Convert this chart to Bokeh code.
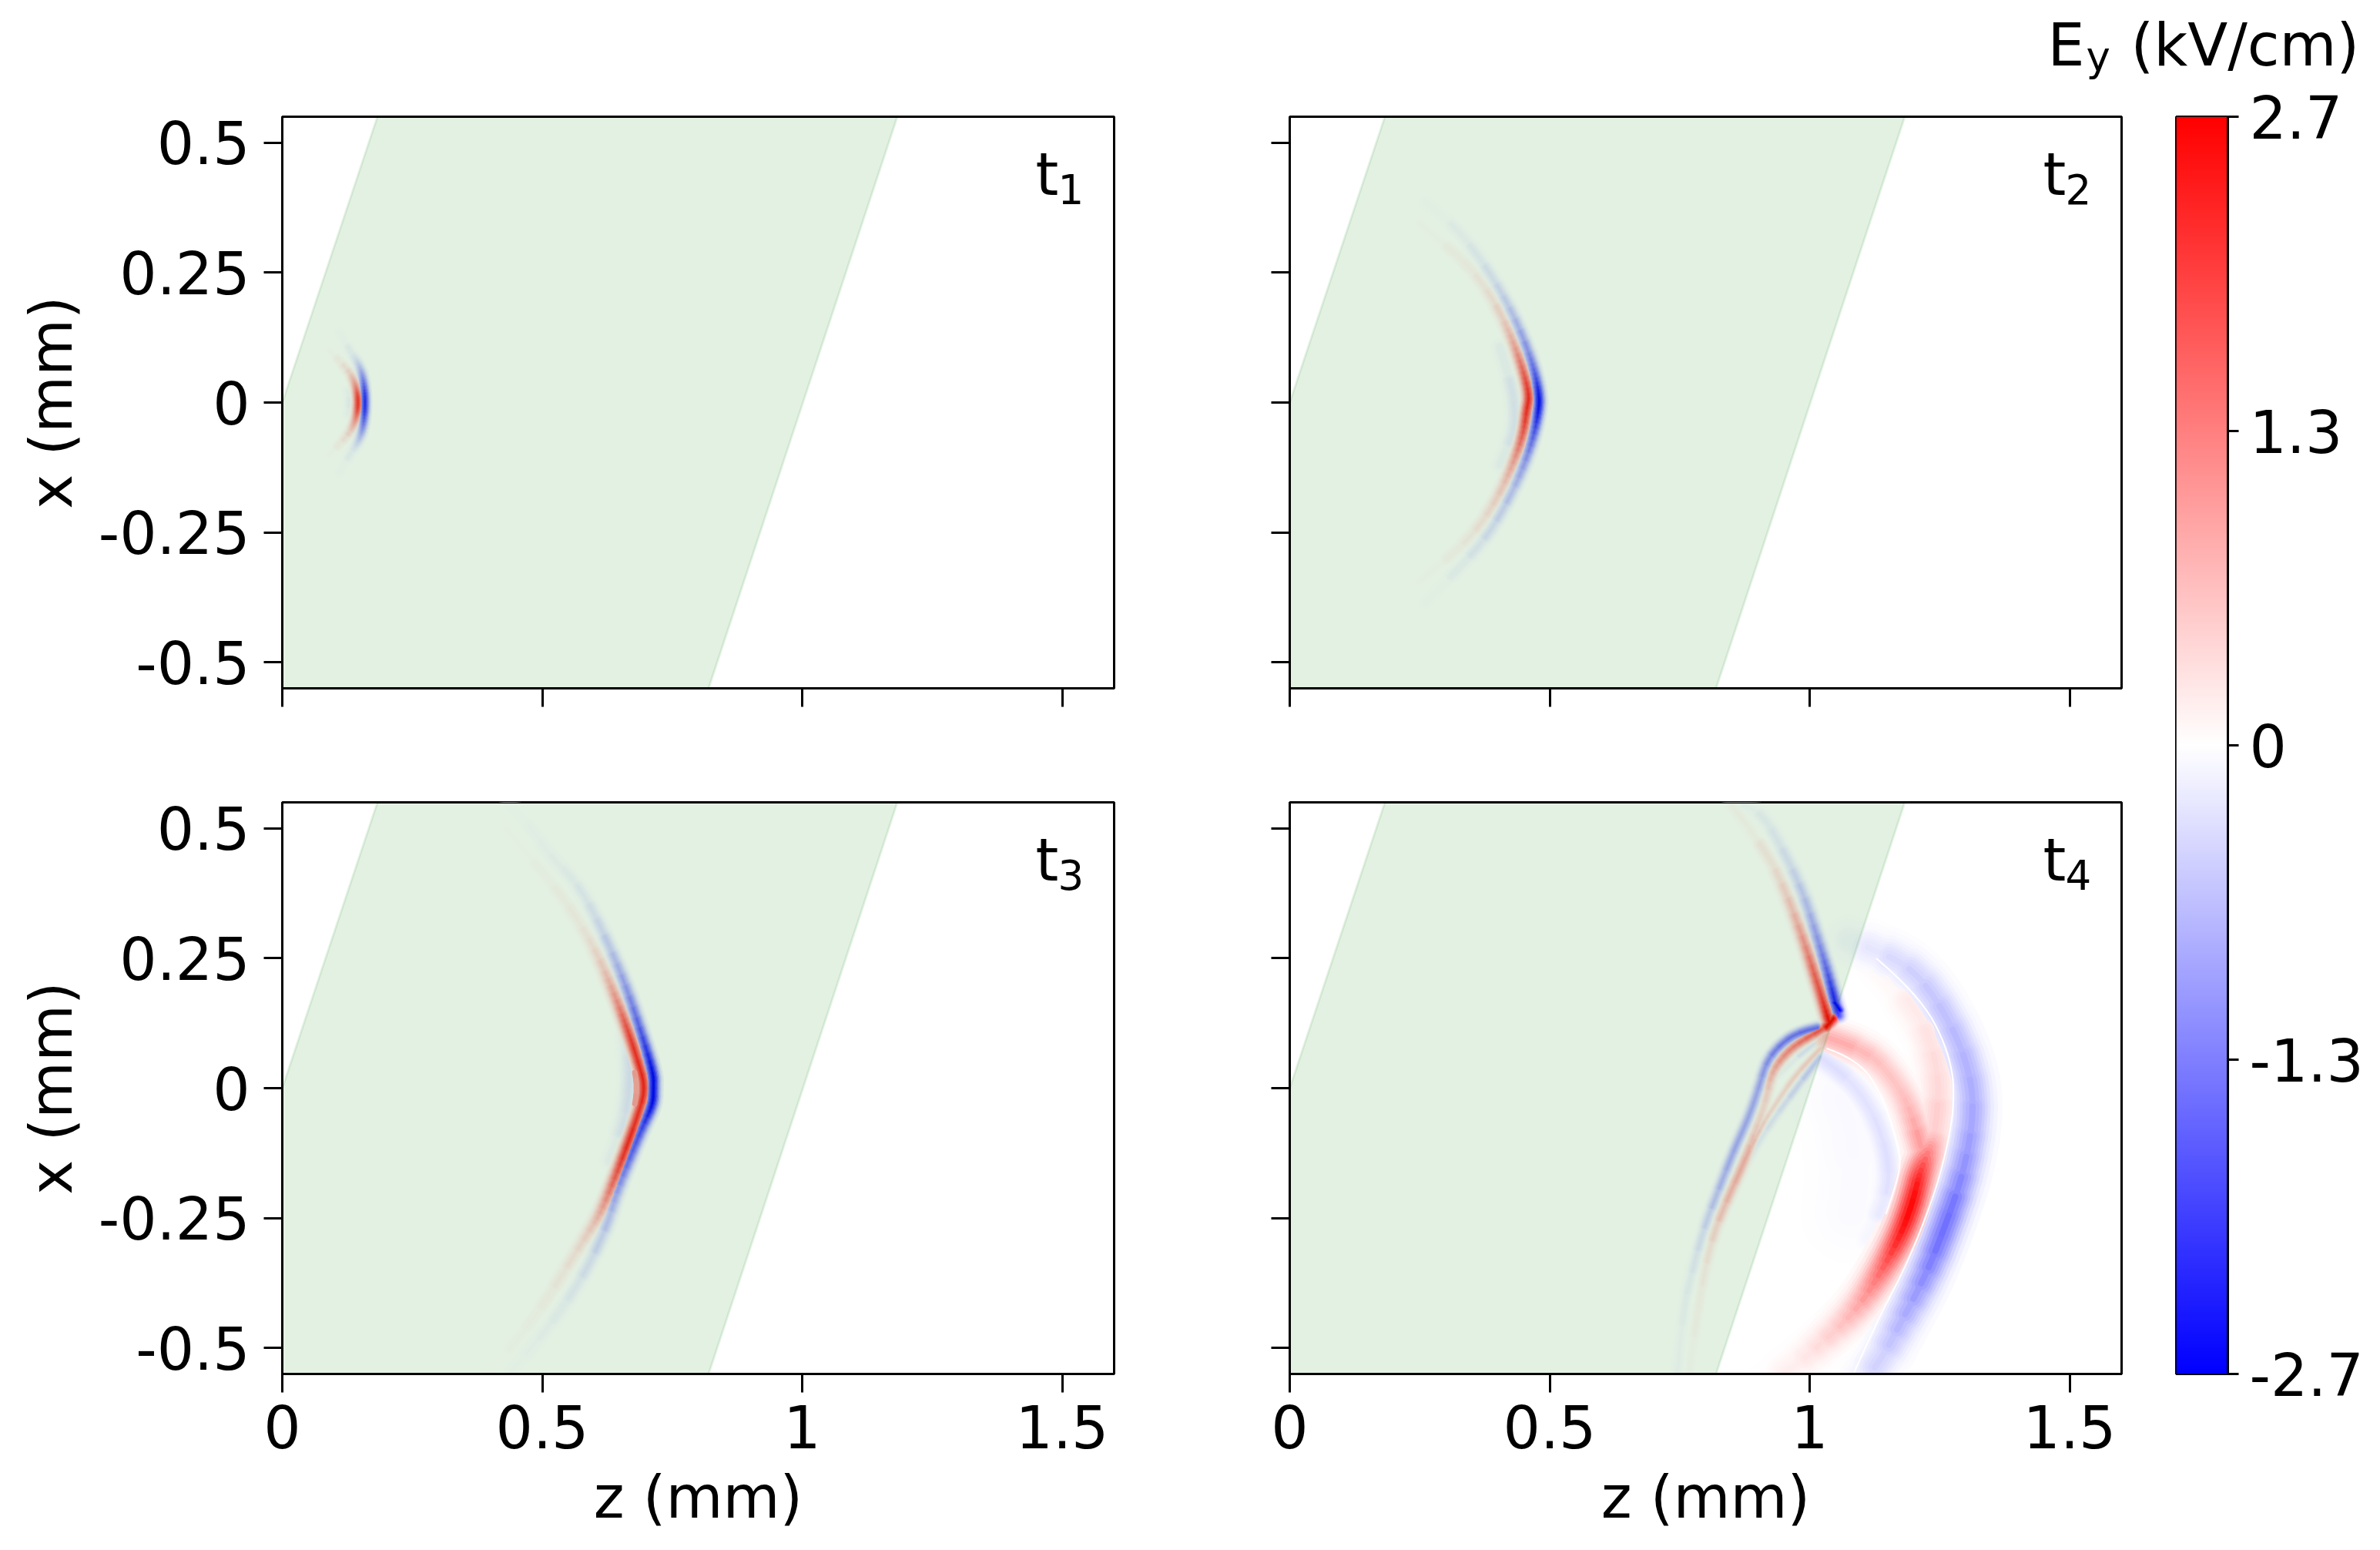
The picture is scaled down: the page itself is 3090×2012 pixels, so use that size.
import math
import numpy as np
from bokeh.embed import file_html
from bokeh.resources import INLINE
from bokeh.plotting import figure
from bokeh.layouts import row, column
from bokeh.models import ColumnDataSource, FixedTicker, Label, LinearColorMapper, Span
from bokeh.transform import linear_cmap

# ---- tick labels / ranges -------------------------------------------------
z_ticks = [0, 0.5, 1, 1.5]
z_tick_labels = ["0", "0.5", "1", "1.5"]
x_ticks = [0.5, 0.25, 0, -0.25, -0.5]
x_tick_labels = ["0.5", "0.25", "0", "-0.25", "-0.5"]
cb_ticks = [2.7, 1.35, 0, -1.35, -2.7]
cb_tick_labels = ["2.7", "1.3", "0", "-1.3", "-2.7"]
time_subs = ["1", "2", "3", "4"]

# ---- sample slab outline (z, x in mm) -------------------------------------
slab_z = [-0.183, 0.82, 1.183, 0.183]
slab_x = [-0.55, -0.55, 0.55, 0.55]

# ---- field ridges: z (mm), x (mm), Ey (kV/cm) ------------------------------
# t1
t1_blue_z = [0.110, 0.129, 0.146, 0.156, 0.160, 0.156, 0.146, 0.129, 0.110]
t1_blue_x = [0.135, 0.101, 0.077, 0.047, 0.0, -0.047, -0.077, -0.101, -0.135]
t1_blue_v = [0.0, -0.06, -0.3, -1.2, -2.6, -1.2, -0.3, -0.06, 0.0]
t1_red_z = [0.090, 0.124, 0.141, 0.147, 0.141, 0.124, 0.090]
t1_red_x = [0.100, 0.067, 0.037, 0.0, -0.037, -0.067, -0.100]
t1_red_v = [0.0, 0.12, 0.9, 2.6, 0.9, 0.12, 0.0]
t1_in_z = [0.126, 0.132, 0.126]
t1_in_x = [0.022, 0.0, -0.022]
t1_in_v = [0.0, -0.22, 0.0]
# t2
t2_blue_z = [0.261, 0.316, 0.379, 0.419, 0.449, 0.471, 0.480, 0.479, 0.470, 0.449, 0.419, 0.379, 0.316, 0.261]
t2_blue_x = [0.385, 0.344, 0.259, 0.191, 0.126, 0.062, 0.013, -0.013, -0.062, -0.126, -0.191, -0.259, -0.330, -0.385]
t2_blue_v = [0.0, -0.05, -0.2, -0.45, -0.9, -1.5, -2.6, -2.6, -1.6, -0.9, -0.5, -0.25, -0.05, 0.0]
t2_red_z = [0.250, 0.310, 0.360, 0.399, 0.428, 0.449, 0.461, 0.456, 0.449, 0.428, 0.399, 0.360, 0.310, 0.250]
t2_red_x = [0.344, 0.295, 0.245, 0.185, 0.122, 0.062, 0.013, -0.013, -0.062, -0.122, -0.185, -0.245, -0.295, -0.344]
t2_red_v = [0.0, 0.06, 0.15, 0.3, 0.7, 1.6, 2.3, 2.3, 1.7, 0.8, 0.4, 0.2, 0.06, 0.0]
t2_in_z = [0.404, 0.428, 0.434, 0.428, 0.404]
t2_in_x = [0.107, 0.033, -0.03, -0.07, -0.12]
t2_in_v = [0.0, -0.2, -0.22, -0.2, 0.0]
# t3
t3_blue_z = [0.436, 0.480, 0.514, 0.569, 0.613, 0.658, 0.692, 0.714, 0.714, 0.713, 0.692, 0.668, 0.643, 0.624, 0.58, 0.52, 0.47, 0.44]
t3_blue_x = [0.545, 0.500, 0.448, 0.393, 0.310, 0.206, 0.102, 0.028, 0.0, -0.031, -0.076, -0.135, -0.200, -0.268, -0.36, -0.45, -0.51, -0.545]
t3_blue_v = [0.0, -0.03, -0.06, -0.12, -0.3, -0.9, -1.8, -2.7, -2.7, -2.7, -1.9, -1.6, -0.9, -0.5, -0.2, -0.08, -0.04, 0.0]
t3_red_z = [0.43, 0.495, 0.554, 0.603, 0.639, 0.668, 0.684, 0.699, 0.684, 0.665, 0.643, 0.613, 0.588, 0.55, 0.50, 0.44, 0.40]
t3_red_x = [0.50, 0.423, 0.348, 0.265, 0.181, 0.102, 0.052, 0.0, -0.052, -0.106, -0.165, -0.239, -0.279, -0.34, -0.42, -0.50, -0.545]
t3_red_v = [0.0, 0.04, 0.1, 0.25, 0.9, 2.1, 2.3, 2.4, 2.2, 2.4, 1.8, 0.8, 0.4, 0.2, 0.08, 0.03, 0.0]
t3_in_z = [0.655, 0.668, 0.668, 0.655, 0.63]
t3_in_x = [0.147, 0.067, -0.007, -0.081, -0.14]
t3_in_v = [0.0, -0.25, -0.28, -0.2, 0.0]
t3_pale_z = [0.678, 0.684, 0.678]
t3_pale_x = [0.030, 0.0, -0.030]
t3_pale_v = [1.1, 0.8, 1.1]
# t4: wave reflected back through the slab, above the interface point
t4_ub_z = [0.873, 0.906, 0.949, 0.987, 1.015, 1.034, 1.051, 1.056]
t4_ub_x = [0.545, 0.534, 0.458, 0.378, 0.289, 0.225, 0.157, 0.140]
t4_ub_v = [-0.02, -0.1, -0.22, -0.5, -1.0, -1.6, -2.6, -1.8]
t4_ur_z = [0.850, 0.916, 0.954, 0.987, 1.010, 1.025, 1.037]
t4_ur_x = [0.545, 0.458, 0.378, 0.289, 0.217, 0.169, 0.129]
t4_ur_v = [0.0, 0.15, 0.4, 1.0, 1.7, 2.0, 2.7]
# t4: branch below the interface point
t4_ab_z = [1.015, 0.977, 0.939, 0.916, 0.902, 0.883, 0.854, 0.826, 0.798, 0.774, 0.755, 0.746]
t4_ab_x = [0.116, 0.108, 0.080, 0.048, 0.0, -0.056, -0.120, -0.193, -0.265, -0.353, -0.434, -0.545]
t4_ab_v = [-1.6, -1.5, -1.4, -1.1, -0.9, -0.9, -0.9, -0.7, -0.35, -0.15, -0.08, -0.04]
t4_ar_z = [1.029, 0.977, 0.944, 0.925, 0.916, 0.897, 0.873, 0.840, 0.812, 0.793, 0.779, 0.769]
t4_ar_x = [0.116, 0.088, 0.056, 0.024, -0.024, -0.080, -0.145, -0.217, -0.289, -0.378, -0.466, -0.545]
t4_ar_v = [1.9, 1.4, 1.1, 0.7, 0.35, 0.45, 0.9, 0.7, 0.3, 0.12, 0.07, 0.03]
t4_br_z = [1.025, 0.977, 0.939, 0.902, 0.873]
t4_br_x = [0.080, 0.032, -0.024, -0.080, -0.145]
t4_br_v = [0.5, 0.45, 0.35, 0.45, 0.9]
t4_bb_z = [1.020, 0.968, 0.916, 0.883, 0.854]
t4_bb_x = [0.060, -0.008, -0.080, -0.137, -0.193]
t4_bb_v = [-0.6, -0.35, -0.2, -0.15, -0.1]
t4_cb_z = [1.025, 0.977, 0.939]
t4_cb_x = [0.096, 0.064, 0.024]
t4_cb_v = [-0.3, -0.2, 0.0]
# t4: radiated field beyond the slab
t4_ob_z = [1.075, 1.110, 1.195, 1.251, 1.299, 1.318, 1.299, 1.261, 1.223, 1.176, 1.129, 1.090]
t4_ob_x = [0.285, 0.273, 0.233, 0.161, 0.064, -0.032, -0.153, -0.265, -0.361, -0.450, -0.538, -0.58]
t4_ob_v = [0.0, -0.2, -0.45, -0.62, -0.78, -0.88, -1.1, -1.6, -1.2, -0.75, -0.38, -0.2]
t4_oa_z = [1.125, 1.204, 1.242, 1.250, 1.238]
t4_oa_x = [0.245, 0.161, 0.064, -0.024, -0.100]
t4_oa_v = [0.0, 0.18, 0.35, 0.42, 0.6]
t4_or_z = [1.238, 1.214, 1.199, 1.176, 1.138, 1.091, 1.025, 0.958, 0.90]
t4_or_x = [-0.100, -0.153, -0.217, -0.281, -0.353, -0.426, -0.490, -0.546, -0.58]
t4_or_v = [0.6, 2.0, 2.7, 2.4, 1.5, 0.8, 0.35, 0.12, 0.0]
t4_ir_z = [1.039, 1.110, 1.157, 1.195, 1.214]
t4_ir_x = [0.096, 0.072, 0.024, -0.040, -0.112]
t4_ir_v = [0.95, 0.7, 0.6, 0.7, 1.1]
t4_ib_z = [1.025, 1.072, 1.129, 1.157, 1.138, 1.110]
t4_ib_x = [0.056, 0.024, -0.056, -0.161, -0.241, -0.289]
t4_ib_v = [-0.4, -0.3, -0.3, -0.35, -0.2, 0.0]
t4_glow_z = [1.06, 1.10, 1.08]
t4_glow_x = [-0.02, -0.12, -0.24]
t4_glow_v = [-0.05, -0.07, -0.03]
t4_hot_z = [1.032, 1.040, 1.046]
t4_hot_x = [0.118, 0.127, 0.134]
t4_hot_v = [2.7, 2.7, 2.7]
t4_bhot_z = [1.048, 1.053, 1.058]
t4_bhot_x = [0.165, 0.158, 0.150]
t4_bhot_v = [-2.7, -2.7, -2.7]
# t4: thin zero-field lines between the lobes
t4_n1_z = [1.129, 1.214, 1.271, 1.280, 1.256, 1.218, 1.176, 1.129, 1.086]
t4_n1_x = [0.249, 0.177, 0.064, -0.032, -0.153, -0.265, -0.361, -0.450, -0.546]
t4_n1_v = [0.0, 0.0, 0.0, 0.0, 0.0, 0.0, 0.0, 0.0, 0.0]
t4_n2_z = [1.034, 1.091, 1.138, 1.171, 1.176, 1.147]
t4_n2_x = [0.076, 0.056, -0.008, -0.112, -0.161, -0.241]
t4_n2_v = [0.0, 0.0, 0.0, 0.0, 0.0, 0.0]

# ridge list per panel with its stroke softness in screen pixels
panels = [
    [(t1_blue_z, t1_blue_x, t1_blue_v, 4), (t1_red_z, t1_red_x, t1_red_v, 4), (t1_in_z, t1_in_x, t1_in_v, 4)],
    [(t2_blue_z, t2_blue_x, t2_blue_v, 5), (t2_red_z, t2_red_x, t2_red_v, 5), (t2_in_z, t2_in_x, t2_in_v, 6)],
    [(t3_blue_z, t3_blue_x, t3_blue_v, 5.5), (t3_red_z, t3_red_x, t3_red_v, 5.5), (t3_in_z, t3_in_x, t3_in_v, 7)],
    [(t4_ub_z, t4_ub_x, t4_ub_v, 5.5), (t4_ur_z, t4_ur_x, t4_ur_v, 5.5),
     (t4_ab_z, t4_ab_x, t4_ab_v, 4.5), (t4_ar_z, t4_ar_x, t4_ar_v, 4.5),
     (t4_br_z, t4_br_x, t4_br_v, 3), (t4_bb_z, t4_bb_x, t4_bb_v, 3.5), (t4_cb_z, t4_cb_x, t4_cb_v, 3),
     (t4_ob_z, t4_ob_x, t4_ob_v, 16), (t4_oa_z, t4_oa_x, t4_oa_v, 15), (t4_or_z, t4_or_x, t4_or_v, 14),
     (t4_ir_z, t4_ir_x, t4_ir_v, 13), (t4_ib_z, t4_ib_x, t4_ib_v, 10), (t4_glow_z, t4_glow_x, t4_glow_v, 32),
     (t4_hot_z, t4_hot_x, t4_hot_v, 5), (t4_bhot_z, t4_bhot_x, t4_bhot_v, 4)],
]
# strokes painted last, on top of the ridges: (z, x, Ey, width px)
overlays = [
    [],
    [],
    [(t3_pale_z, t3_pale_x, t3_pale_v, 7)],
    [(t4_n1_z, t4_n1_x, t4_n1_v, 2), (t4_n2_z, t4_n2_x, t4_n2_v, 2)],
]

FONT = "DejaVu Sans"
SIZE = "76px"
SUB = "53px"
palette = []
for i in range(511):
    t = i / 510
    if t < 0.5:
        g = round(255 * t * 2)
        palette.append("#%02x%02xff" % (g, g))
    else:
        g = round(255 * (1 - t) * 2)
        palette.append("#ff%02x%02x" % (g, g))
VMAX = 2.7
levels = [0.05, 0.12, 0.22, 0.34, 0.47, 0.6, 0.73, 0.86, 1.0]


def blossom(a, b, p0, p1, p2):
    return (1 - a) * (1 - b) * p0 + (a * (1 - b) + b * (1 - a)) * p1 + a * b * p2


def pieces_of(zs, xs, vs):
    # spline strokes: the read points act as control points of the curve,
    # and each curve is painted in short pieces so that its colour changes gradually
    n = len(zs)
    out = []
    for i in range(n - 2):
        c = i + 1
        z0 = zs[0] if i == 0 else (zs[i] + zs[c]) / 2
        x0 = xs[0] if i == 0 else (xs[i] + xs[c]) / 2
        v0 = vs[0] if i == 0 else (vs[i] + vs[c]) / 2
        z2 = zs[-1] if c == n - 2 else (zs[c] + zs[c + 1]) / 2
        x2 = xs[-1] if c == n - 2 else (xs[c] + xs[c + 1]) / 2
        v2 = vs[-1] if c == n - 2 else (vs[c] + vs[c + 1]) / 2
        count = max(2, min(8, math.ceil(max(abs(vs[c] - v0), abs(v2 - vs[c])) / 0.1)))
        for k in range(count):
            a, b = k / count, (k + 1) / count
            out.append((blossom(a, a, z0, zs[c], z2), blossom(a, a, x0, xs[c], x2),
                        blossom(b, b, z0, zs[c], z2), blossom(b, b, x0, xs[c], x2),
                        blossom(a, b, z0, zs[c], z2), blossom(a, b, x0, xs[c], x2),
                        blossom(a, b, v0, vs[c], v2)))
    return out


def ridge_records(ridges, extra):
    rec = []
    for zs, xs, vs, sigma in ridges:
        for s in pieces_of(zs, xs, vs):
            for f in levels:
                w = 2 * sigma * math.sqrt(-2 * math.log(f)) + (0.5 * sigma if f == 1 else 0)
                rec.append((abs(s[6] * f),) + s[:6] + (s[6] * f, w))
    rec.sort(key=lambda r: r[0])
    for zs, xs, vs, width in extra:
        for s in pieces_of(zs, xs, vs):
            rec.append((0,) + s[:6] + (s[6], width))
    cols = list(zip(*rec))
    return dict(x0=cols[1], y0=cols[2], x1=cols[3], y1=cols[4], cx=cols[5], cy=cols[6], v=cols[7], lw=cols[8])


def style_axis(ax, ticks, labels, show):
    ax.ticker = FixedTicker(ticks=ticks)
    ax.major_label_overrides = {t: (l if show else "") for t, l in zip(ticks, labels)}
    ax.major_label_text_font = FONT
    ax.major_label_text_font_size = SIZE
    ax.major_label_text_color = "black"
    ax.major_tick_in = 0
    ax.major_tick_out = 24
    ax.major_tick_line_width = 3
    ax.major_tick_line_color = "black"
    ax.minor_tick_line_color = None
    ax.axis_line_width = 3
    ax.axis_line_color = "black"


def panel(idx, left, right, top, bottom, xlab, ylab):
    p = figure(frame_width=1080, frame_height=742, x_range=(0, 1.6), y_range=(-0.55, 0.55),
               min_border_left=left, min_border_right=right, min_border_top=top, min_border_bottom=bottom,
               output_backend="svg", toolbar_location=None, background_fill_color="white",
               border_fill_color="white")
    p.grid.visible = False
    p.outline_line_color = "black"
    p.outline_line_width = 3
    style_axis(p.xaxis[0], z_ticks, z_tick_labels, xlab)
    style_axis(p.yaxis[0], x_ticks, x_tick_labels, ylab)
    p.xaxis[0].major_label_standoff = 16
    p.yaxis[0].major_label_standoff = 18
    for ax, show, text in ((p.xaxis[0], xlab, "z (mm)"), (p.yaxis[0], ylab, "x (mm)")):
        if show:
            ax.axis_label = text
            ax.axis_label_text_font = FONT
            ax.axis_label_text_font_size = SIZE
            ax.axis_label_text_font_style = "normal"
            ax.axis_label_text_color = "black"
            ax.axis_label_standoff = 14
    p.xaxis[0].axis_label_standoff = 16
    src = ColumnDataSource(ridge_records(panels[idx], overlays[idx]))
    p.quadratic(x0="x0", y0="y0", x1="x1", y1="y1", cx="cx", cy="cy", source=src,
                line_color=linear_cmap("v", palette, -VMAX, VMAX), line_width="lw", line_cap="round")
    p.patch(slab_z, slab_x, fill_color="green", fill_alpha=0.11, line_color=None)
    p.line([slab_z[0], slab_z[3]], [slab_x[0], slab_x[3]], line_color="green", line_alpha=0.1, line_width=3)
    p.line([slab_z[1], slab_z[2]], [slab_x[1], slab_x[2]], line_color="green", line_alpha=0.1, line_width=3)
    p.add_layout(Span(location=0.55, dimension="width", line_color="black", line_width=3, level="overlay"))
    p.add_layout(Label(x=1.449, y=0.439, text="t", text_font=FONT, text_font_size=SIZE,
                       text_color="black", text_baseline="alphabetic"))
    p.add_layout(Label(x=1.492, y=0.411, text=time_subs[idx], text_font=FONT, text_font_size=SUB,
                       text_color="black", text_baseline="alphabetic"))
    return p


p1 = panel(0, 366, 2, 44, 70, False, True)
p2 = panel(1, 226, 2, 44, 70, False, False)
p3 = panel(2, 366, 2, 78, 215, True, True)
p4 = panel(3, 226, 2, 78, 215, True, False)

# colour bar
cb_mapper = LinearColorMapper(palette=palette, low=-VMAX, high=VMAX)
cb = figure(frame_width=67, frame_height=1632, x_range=(0, 1), y_range=(-VMAX, VMAX),
            min_border_left=69, min_border_right=190, min_border_top=44, min_border_bottom=60,
            output_backend="svg", toolbar_location=None, y_axis_location="right")
cb.grid.visible = False
cb.xaxis.visible = False
cb.image(image=[np.linspace(-VMAX, VMAX, 511).reshape(-1, 1)], x=0, y=-VMAX, dw=1, dh=2 * VMAX, color_mapper=cb_mapper)
cb.outline_line_color = "black"
cb.outline_line_width = 3
style_axis(cb.yaxis[0], cb_ticks, cb_tick_labels, True)
cb.yaxis[0].major_tick_out = 14
cb.yaxis[0].major_label_standoff = 14

# header carrying the colour-bar title
header = figure(width=3082, height=107, x_range=(0, 3082), y_range=(107, 0), min_border=0, title=None,
                output_backend="svg", toolbar_location=None, outline_line_color=None)
header.axis.visible = False
header.grid.visible = False
for text, x, y, size in (("E", 2658, 58, "76px"), ("y", 2708, 73, SUB), ("(kV/cm)", 2766, 58, "76px")):
    header.add_layout(Label(x=x, y=y, text=text, text_font=FONT, text_font_size=size,
                            text_color="black", text_baseline="alphabetic"))

page = column(header, row(column(row(p1, p2), row(p3, p4)), cb))
open("out.html", "w").write(file_html(page, INLINE))
